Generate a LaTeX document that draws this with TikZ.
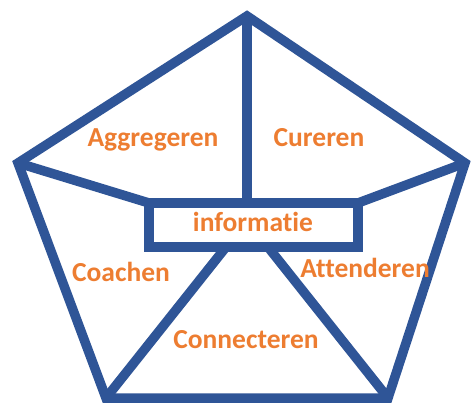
\documentclass[tikz,border=0pt]{standalone}
\usepackage{fontspec}
\setmainfont{Carlito}[Ligatures=NoCommon]
\definecolor{vakblauw}{RGB}{47,85,151}
\definecolor{vakoranje}{RGB}{237,125,49}

\begin{document}
\begin{tikzpicture}[x=1pt,y=-1pt,
        rand/.style={draw=vakblauw, line width=9.5pt, line join=miter},
        rol/.style={text=vakoranje, anchor=base, inner sep=0pt,
                    font=\bfseries\fontsize{27.5}{32}\selectfont}]
                \useasboundingbox (0,0) rectangle (471,403);

                % hoekpunten van de vijfhoek
                \coordinate (top) at (247,16);
                \coordinate (right) at (465,163);
                \coordinate (br) at (388,398);
                \coordinate (bl) at (106,398);
                \coordinate (left) at (18,163);

                % kader in het midden
                \node[rand, outer sep=0pt, inner sep=0pt, minimum width=209pt, minimum height=44pt] (info) at (253.5,225) {};
                \coordinate (infol) at (226,247);
                \coordinate (infor) at (268,247);

                \draw[rand] (top) -- (right) -- (br) -- (bl) -- (left) -- cycle;

                \draw[rand] (top) edge (top |- info.north);
                \draw[rand] (left) edge (info.north west);
                \draw[rand] (right) edge (info.north east);
                \draw[rand] (bl) edge (infol);
                \draw[rand] (br) edge (infor);

                % rollen
                \node[rol] (informatie) at (253,232) {informatie};
                \node[rol] (aggregeren) at (153,147) {Aggregeren};
                \node[rol] (cureren) at (319,147) {Cureren};
                \node[rol] (coachen) at (121,282) {Coachen};
                \node[rol] (attenderen) at (365,277) {Attenderen};
                \node[rol] (connecteren) at (246,348) {Connecteren};

            \end{tikzpicture}
\end{document}
